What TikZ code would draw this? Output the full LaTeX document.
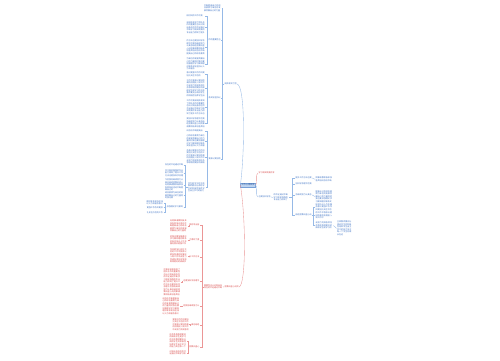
\documentclass[tikz,border=0pt]{standalone}
\usepackage{fontspec}
\usepackage{xstring}
\newfontfamily\cjk{Noto Sans CJK SC}
\XeTeXlinebreaklocale "zh"
\XeTeXlinebreakskip=0pt plus 0.3pt
\definecolor{bT}{RGB}{55,110,195}
\definecolor{bL}{RGB}{150,185,230}
\definecolor{rT}{RGB}{215,65,65}
\definecolor{rL}{RGB}{235,150,150}
\definecolor{cF}{RGB}{190,212,240}
\definecolor{cD}{RGB}{120,160,215}
\def\filler{在这段时间的工作中我深刻体会到了团队合作的重要性也认识到自身存在的不足通过不断学习和实践我的专业能力得到了提升工作方法也更加科学合理今后我将继续努力认真总结经验教训虚心向同事请教积极参加各类培训活动不断提高自己的综合素质为单位的发展贡献自己的力量同时我也要加强理论学习做到理论联系实际坚持以人为本服务意识更强工作作风更加扎实在今后的工作中我会以更加饱满的热情投入到工作中去努力完成各项任务争取取得更好的成绩学生是学习的主体教师要充分调动学生的积极性培养学生自主学习的能力关注每一个学生的成长在这段时间的工作中我深刻体会到了团队合作的重要性也认识到自身存在的不足通过不断学习和实践我的专业能力得到了提升工作方法也更加科学合理今后我将继续努力认真总结经验教训虚心向同事请教积极参加各类培训活动不断提高自己的综合素质为单位的发展贡献自己的力量同时我也要加强理论学习做到理论联系实际坚持以人为本服务意识更强工作作风更加扎实在今后的工作中我会以更加饱满的热情投入到工作中去努力完成各项任务争取取得更好的成绩}
\newcommand\fillt[2][1]{\StrMid{\filler}{#1}{\the\numexpr#1+#2-1\relax}}
\newcommand\lkids[4]{%
  \coordinate (tmpS) at (#3,0);
  \draw[#1] (#2.west) -- (#2.west -| tmpS);
  \foreach \c in {#4}{\draw[#1] (\c.east) -| (#2.west -| tmpS);}}
\newcommand\rkids[4]{%
  \coordinate (tmpS) at (#3,0);
  \draw[#1] (#2.east) -- (#2.east -| tmpS);
  \foreach \c in {#4}{\draw[#1] (\c.west) -| (#2.east -| tmpS);}}
\tikzset{
  cj/.style={font=\cjk\fontsize{2}{2.5}\selectfont, inner sep=0.4pt, align=left},
  bb/.style={cj, text=bT, anchor=north west},
  rb/.style={cj, text=rT, anchor=north west},
  blab/.style={cj, text=bT},
  rlab/.style={cj, text=rT},
  bline/.style={draw=bL, line width=0.35pt},
  rline/.style={draw=rL, line width=0.35pt}
}
\begin{document}
\begin{tikzpicture}[x=1pt,y=-1pt]
\useasboundingbox[fill=white] (0,0) rectangle (500,360);
% central
\node[cj, font=\cjk\fontsize{2.2}{2.6}\selectfont, fill=cF, draw=cD, line width=0.2pt, inner sep=0.9pt, text=bT!80!black] (cen) at (248,185) {工作心得体会};
% first level
\node[blab, anchor=west] (A) at (224,84) {\fillt[12]{6}};
\node[rlab, anchor=west] (R1) at (258,173) {\fillt[40]{8}};
\node[blab, anchor=west] (R2) at (258,197) {\fillt[60]{6}};
\node[rlab, anchor=west] (R3) at (224,287) {\fillt[80]{7}};
\draw[bline] (cen.west) .. controls (245,150) and (245,86) .. (A.east);
\draw[rline] (cen.west) .. controls (246,220) and (246,284) .. (R3.east);
\draw[rline] (cen.east) .. controls (258,185) and (255,173) .. (R1.west);
\draw[bline] (cen.east) .. controls (258,185) and (255,197) .. (R2.west);
% ---- A subtree
\node[bb, text width=17.2pt] (A1) at (203.5,4) {\fillt[100]{24}};
\node[blab, anchor=west] (B1) at (208,40) {\fillt[20]{6}};
\node[blab, anchor=west] (B2) at (208,98) {\fillt[140]{6}};
\node[blab, anchor=west] (B3) at (208,159) {\fillt[170]{6}};
\lkids{bline}{A}{222.5}{A1,B1,B2,B3}
\node[bb, text width=18.2pt] (b1a) at (186,14.5) {\fillt[3]{8}};
\node[bb, text width=18.2pt] (b1b) at (186,21) {\fillt[11]{45}};
\node[bb, text width=18.2pt] (b1c) at (186,39.5) {\fillt[57]{54}};
\node[bb, text width=18.2pt] (b1d) at (186,57.5) {\fillt[111]{40}};
\lkids{bline}{B1}{206.8}{b1a,b1b,b1c,b1d}
\node[bb, text width=18.2pt] (b2a) at (186,71.5) {\fillt[151]{16}};
\node[bb, text width=18.2pt] (b2b) at (186,79) {\fillt[167]{63}};
\node[bb, text width=18.2pt] (b2c) at (186,99.5) {\fillt[7]{54}};
\node[bb, text width=18.2pt] (b2d) at (186,117.5) {\fillt[61]{36}};
\lkids{bline}{B2}{206.8}{b2a,b2b,b2c,b2d}
\node[bb, text width=18.2pt] (b3a) at (186,129.5) {\fillt[97]{8}};
\node[bb, text width=18.2pt] (b3b) at (186,134.5) {\fillt[105]{45}};
\node[bb, text width=18.2pt] (b3c) at (186,149) {\fillt[150]{54}};
\node[bb, text width=17.2pt] (C) at (187.5,182) {\fillt[204]{32}};
\lkids{bline}{B3}{206.8}{b3a,b3b,b3c,C}
\node[bb, text width=18.2pt] (c1) at (164.5,163.5) {\fillt[31]{9}};
\node[bb, text width=18.2pt] (c2) at (164.5,169) {\fillt[40]{27}};
\node[bb, text width=18.2pt] (c3) at (164.5,178.5) {\fillt[67]{40}};
\node[bb, text width=18.2pt] (c4) at (164.5,191.5) {\fillt[107]{22}};
\node[blab, anchor=east] (c5) at (183.5,207) {\fillt[129]{8}};
\lkids{bline}{C}{185.5}{c1,c2,c3,c4,c5}
\node[bb, text width=17.2pt] (f1) at (146,200) {\fillt[137]{16}};
\node[blab, anchor=east] (f2) at (163.5,207.5) {\fillt[153]{8}};
\node[blab, anchor=east] (f3) at (163.5,212.5) {\fillt[161]{8}};
\lkids{bline}{c5}{165.3}{f1,f2,f3}
% ---- R3 subtree (red)
\node[rb, text width=18.2pt] (D) at (203.5,284) {\fillt[22]{18}};
\draw[rline] (R3.west) -- (D.east);
\node[rlab, anchor=east] (d1) at (200,225) {\fillt[45]{5}};
\node[rlab, anchor=east] (d2) at (200,240) {\fillt[50]{5}};
\node[rlab, anchor=east] (d3) at (200,257) {\fillt[55]{5}};
\node[rlab, anchor=east] (d4) at (200,281) {\fillt[60]{8}};
\node[rlab, anchor=east] (d5) at (200,306) {\fillt[68]{8}};
\node[rlab, anchor=east] (d6) at (200,325) {\fillt[76]{4}};
\node[rlab, anchor=east] (d7) at (200,347) {\fillt[80]{5}};
\lkids{rline}{D}{201.8}{d1,d2,d3,d4,d5,d6,d7}
\node[rb, text width=17.2pt] (L1) at (169.5,219.5) {\fillt[85]{40}};
\node[rb, text width=17.2pt] (L2) at (169.5,235) {\fillt[125]{32}};
\node[rb, text width=17.2pt] (L3) at (169.5,248) {\fillt[157]{48}};
\node[rb, text width=17.2pt] (L4) at (163,268) {\fillt[9]{88}};
\node[rb, text width=17.2pt] (L5) at (162,297) {\fillt[97]{56}};
\node[rb, text width=16.2pt] (L6) at (172,318) {\fillt[153]{40}};
\node[rb, text width=17.2pt] (L7) at (169,333) {\fillt[193]{48}};
\node[rb, text width=17.2pt] (L8) at (169,350) {\fillt[27]{16}};
\lkids{rline}{d1}{188.8}{L1}
\lkids{rline}{d2}{188.8}{L2}
\lkids{rline}{d3}{188.8}{L3}
\lkids{rline}{d4}{182.3}{L4}
\lkids{rline}{d5}{181.5}{L5}
\lkids{rline}{d6}{190.2}{L6}
\lkids{rline}{d7}{188.2}{L7,L8}
% ---- R2 subtree (blue, right)
\node[bb, text width=15.2pt] (E) at (273,193.5) {\fillt[33]{21}};
\draw[bline] (R2.east) -- (E.west);
\node[blab, anchor=west] (e1) at (295,178) {\fillt[54]{8}};
\node[blab, anchor=west] (e2) at (295,184) {\fillt[62]{8}};
\node[blab, anchor=west] (e3) at (295,195) {\fillt[70]{8}};
\node[blab, anchor=west] (e4) at (295,215) {\fillt[78]{8}};
\rkids{bline}{E}{292.5}{e1,e2,e3,e4}
\node[bb, text width=17.2pt] (g1) at (315,176.5) {\fillt[86]{16}};
\node[bb, text width=17.2pt] (g3) at (315,190) {\fillt[102]{40}};
\draw[bline] (e1.east) -- (g1.west);
\draw[bline] (e3.east) -- (g3.west);
\node[bb, text width=17.2pt] (g4) at (315,203) {\fillt[142]{24}};
\node[bb, text width=17.2pt] (g5) at (315,211.5) {\fillt[166]{20}};
\node[bb, text width=17.2pt] (g6) at (315,221.5) {\fillt[186]{24}};
\rkids{bline}{e4}{313.5}{g4,g5,g6}
\node[bb, text width=15.2pt] (h1) at (336.5,220.5) {\fillt[210]{38}};
\draw[bline] (g6.east) -- (h1.west);
\end{tikzpicture}
\end{document}
